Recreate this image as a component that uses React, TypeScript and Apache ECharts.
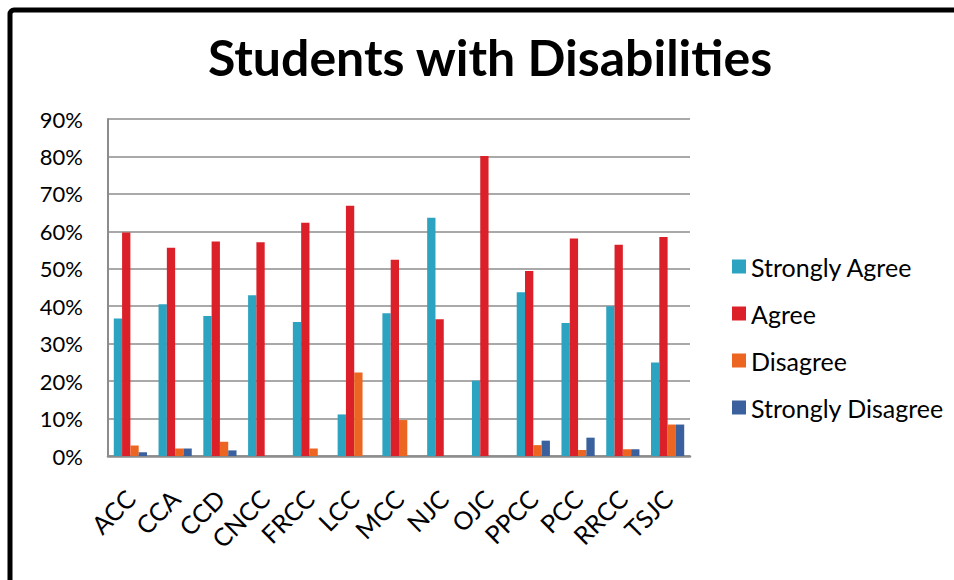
import React, { useEffect, useRef } from "react";
import * as echarts from "echarts";

// Colleges surveyed
const colleges = [
  "ACC", "CCA", "CCD", "CNCC", "FRCC", "LCC", "MCC",
  "NJC", "OJC", "PPCC", "PCC", "RRCC", "TSJC",
];

// Response shares (percent) per college
const stronglyAgree = [36.7, 40.5, 37.4, 42.9, 35.8, 11.1, 38.1, 63.6, 20.1, 43.7, 35.5, 40.0, 25.0];
const agree = [59.7, 55.6, 57.3, 57.1, 62.3, 66.8, 52.4, 36.5, 80.1, 49.4, 58.1, 56.4, 58.5];
const disagree = [2.8, 2.0, 3.8, 0, 2.0, 22.3, 9.6, 0, 0, 2.9, 1.6, 1.8, 8.4];
const stronglyDisagree = [1.0, 2.0, 1.5, 0, 0, 0, 0, 0, 0, 4.1, 4.9, 1.8, 8.4];

const seriesNames = ["Strongly Agree", "Agree", "Disagree", "Strongly Disagree"];
const seriesColors = ["#2ca3c0", "#dc2029", "#ec6521", "#3a619e"];

const titleText = "Students with Disabilities";
const FONT = "Lato, 'Open Sans', sans-serif";

export default function App() {
  const ref = useRef<HTMLDivElement>(null);

  useEffect(() => {
    if (!ref.current) return;
    const chart = echarts.init(ref.current, undefined, { renderer: "svg" });
    const values = [stronglyAgree, agree, disagree, stronglyDisagree];

    chart.setOption({
      animation: false,
      backgroundColor: "#ffffff",
      textStyle: { fontFamily: FONT },
      graphic: [
        {
          type: "rect",
          shape: { x: 10, y: 10, width: 1000, height: 650, r: 4 },
          style: { fill: "none", stroke: "#000000", lineWidth: 5 },
          silent: true,
        },
        {
          type: "text",
          x: 490,
          y: 57,
          style: {
            text: titleText,
            fontFamily: FONT,
            fontWeight: "bold",
            fontSize: 50,
            fill: "#000000",
            align: "center",
            verticalAlign: "middle",
          },
        },
      ],
      legend: {
        orient: "vertical",
        left: 732,
        top: 254,
        padding: 0,
        icon: "rect",
        itemWidth: 14,
        itemHeight: 14,
        itemGap: 22,
        textStyle: {
          fontFamily: FONT,
          fontSize: 25,
          lineHeight: 24,
          color: "#000000",
        },
        data: seriesNames,
      },
      grid: {
        left: 108,
        right: 264,
        top: 119,
        bottom: 124,
        containLabel: false,
        outerBoundsMode: "none",
      },
      xAxis: {
        type: "category",
        data: colleges,
        axisLine: { show: true, lineStyle: { color: "#8c8c8c", width: 2.5 } },
        axisTick: { show: false },
        axisLabel: {
          rotate: 45,
          margin: 38,
          interval: 0,
          fontFamily: FONT,
          fontSize: 25,
          color: "#000000",
        },
      },
      yAxis: {
        type: "value",
        min: 0,
        max: 90,
        interval: 10,
        axisLine: { show: true, lineStyle: { color: "#8c8c8c", width: 2 } },
        axisTick: { show: false },
        splitLine: { show: true, lineStyle: { color: "#8c8c8c", width: 1.5 } },
        axisLabel: {
          formatter: "{value}%",
          margin: 25,
          fontFamily: FONT,
          fontSize: 22,
          color: "#000000",
        },
      },
      series: seriesNames.map((name, i) => ({
        name,
        type: "bar",
        data: values[i],
        barWidth: 8.3,
        barGap: "0%",
        itemStyle: { color: seriesColors[i] },
      })),
    });

    return () => chart.dispose();
  }, []);

  return (
    <div
      ref={ref}
      style={{ position: "fixed", left: 0, top: 0, width: 954, height: 580 }}
    />
  );
}
